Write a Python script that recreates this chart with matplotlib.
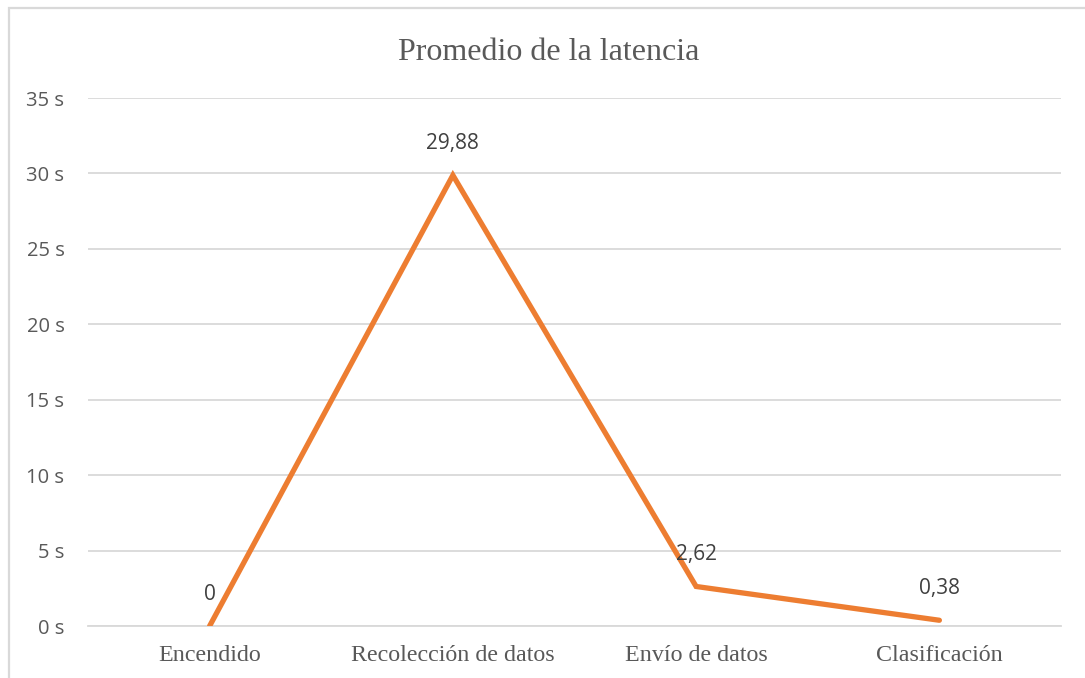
import matplotlib.pyplot as plt
from matplotlib.patches import Rectangle

# chart data
categories = ["Encendido", "Recolección de datos", "Envío de datos", "Clasificación"]
latencia = [0, 29.88, 2.62, 0.38]
etiquetas = ["0", "29,88", "2,62", "0,38"]
y_ticks = [0, 5, 10, 15, 20, 25, 30, 35]

W, H = 1085, 678
fig = plt.figure(figsize=(W / 100, H / 100), dpi=100)
ax = fig.add_axes([88 / W, 1 - 626 / H, (1061 - 88) / W, (626 - 98) / H])

# outer frame of the chart area
fig.patches.append(Rectangle((8.5 / W, -0.1), 1.2, (1 - 7.5 / H) + 0.1,
                             transform=fig.transFigure, fill=False,
                             edgecolor="#D9D9D9", linewidth=1.6))

x = list(range(len(categories)))
ax.plot(x, latencia, color="#ED7D31", linewidth=3.8, solid_capstyle="round",
        solid_joinstyle="miter", zorder=3)

for xi, yi, txt in zip(x, latencia, etiquetas):
    ax.annotate(txt, (xi, yi), xytext=(0, 23), textcoords="offset points",
                ha="center", va="center", fontsize=15, family="Open Sans",
                color="#404040", zorder=4)

ax.set_xlim(-0.5, len(categories) - 0.5)
ax.set_ylim(0, 35)
ax.set_yticks(y_ticks)
ax.set_yticklabels([f"{v} s" for v in y_ticks], family="Open Sans",
                   fontsize=14.5, color="#595959")
ax.set_xticks(x)
ax.set_xticklabels(categories, family="Liberation Serif", fontsize=17.3,
                   color="#595959")
ax.tick_params(axis="both", length=0)
ax.tick_params(axis="y", pad=17)
ax.tick_params(axis="x", pad=14)

ax.grid(axis="y", color="#D9D9D9", linewidth=1.3)
ax.set_axisbelow(True)
for side in ["left", "right", "top"]:
    ax.spines[side].set_visible(False)
ax.spines["bottom"].set_color("#D9D9D9")
ax.spines["bottom"].set_linewidth(1.3)

fig.text(549 / W, 1 - 52 / H, "Promedio de la latencia", ha="center",
         va="center", family="Liberation Serif", fontsize=23, color="#595959")

fig.savefig("out.png", dpi=100)
